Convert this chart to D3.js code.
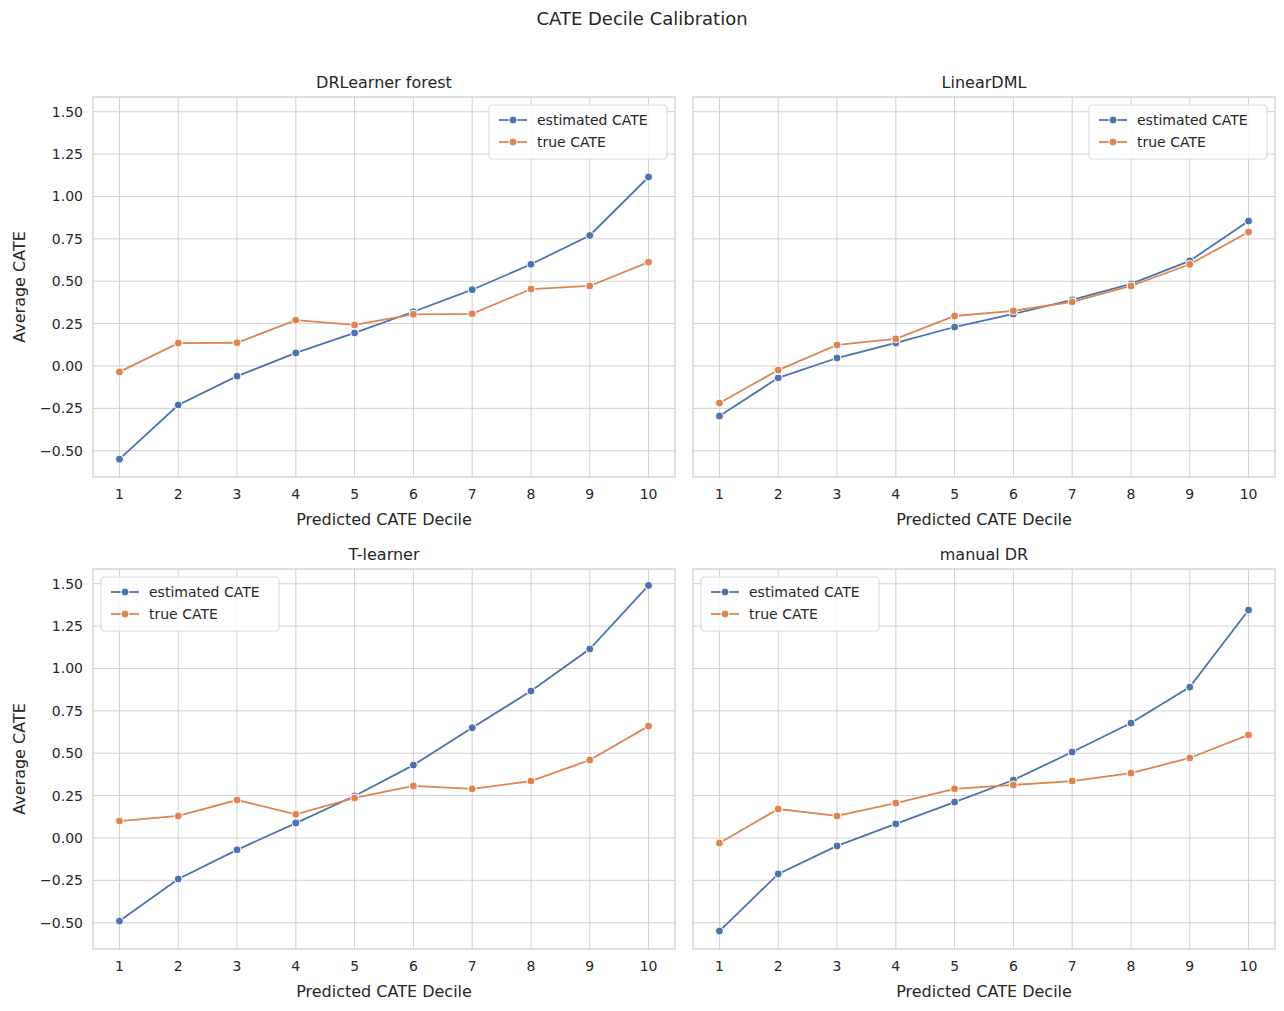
<!DOCTYPE html>
<html><head><meta charset="utf-8">
<script src="https://cdn.jsdelivr.net/npm/d3@7"></script>
<style>body{margin:0;background:#fff}text{font-family:"DejaVu Sans",sans-serif;fill:#262626}</style>
</head><body>
<script>
// values
var deciles = [1,2,3,4,5,6,7,8,9,10];
var titles = ["DRLearner forest","LinearDML","T-learner","manual DR"];
var estDR = [-0.55,-0.23,-0.06,0.077,0.195,0.32,0.45,0.60,0.77,1.115];
var trueDR = [-0.035,0.135,0.137,0.27,0.242,0.305,0.308,0.454,0.472,0.613];
var estLin = [-0.295,-0.07,0.047,0.136,0.23,0.307,0.39,0.484,0.62,0.855];
var trueLin = [-0.218,-0.024,0.124,0.16,0.295,0.325,0.378,0.472,0.60,0.79];
var estT = [-0.49,-0.242,-0.07,0.088,0.248,0.43,0.65,0.867,1.115,1.49];
var trueT = [0.10,0.13,0.224,0.14,0.236,0.307,0.29,0.336,0.46,0.66];
var estMan = [-0.549,-0.212,-0.047,0.083,0.212,0.342,0.507,0.678,0.89,1.345];
var trueMan = [-0.03,0.171,0.13,0.206,0.29,0.313,0.336,0.383,0.472,0.608];
var yTicks = [-0.5,-0.25,0,0.25,0.5,0.75,1,1.25,1.5];
var seriesNames = ["estimated CATE","true CATE"];
var colors = ["#4c72b0","#dd8452"];

var panels = [
  {est:estDR, tru:trueDR, x:93, y:97, legendRight:true},
  {est:estLin, tru:trueLin, x:693, y:97, legendRight:true},
  {est:estT, tru:trueT, x:93, y:569, legendRight:false},
  {est:estMan, tru:trueMan, x:693, y:569, legendRight:false}
];
var W = 582, H = 380;

var svg = d3.select("body").append("svg").attr("width",1284).attr("height",1011);
svg.append("text").attr("x",642).attr("y",25).attr("text-anchor","middle").style("font-size","18px").text("CATE Decile Calibration");

var x = d3.scaleLinear().domain([0.55,10.45]).range([0,W]);
var y = d3.scaleLinear().domain([-0.655,1.587]).range([H,0]);

panels.forEach(function(p,i){
  var g = svg.append("g").attr("transform","translate("+p.x+","+p.y+")");
  // grid
  g.selectAll(".gx").data(deciles).enter().append("line")
    .attr("x1",d=>x(d)).attr("x2",d=>x(d)).attr("y1",0).attr("y2",H).attr("stroke","#d0d0d0");
  g.selectAll(".gy").data(yTicks).enter().append("line")
    .attr("x1",0).attr("x2",W).attr("y1",d=>y(d)).attr("y2",d=>y(d)).attr("stroke","#d0d0d0");
  g.append("rect").attr("width",W).attr("height",H).attr("fill","none").attr("stroke","#cccccc").attr("stroke-width",1.2);
  // x ticks
  g.selectAll(".xt").data(deciles).enter().append("text")
    .attr("x",d=>x(d)).attr("y",H+22).attr("text-anchor","middle").style("font-size","14px").text(d=>d);
  g.append("text").attr("x",W/2).attr("y",H+48).attr("text-anchor","middle").style("font-size","16px").text("Predicted CATE Decile");
  if(i%2===0){
    g.selectAll(".yt").data(yTicks).enter().append("text")
      .attr("x",-10).attr("y",d=>y(d)+5).attr("text-anchor","end").style("font-size","14px").text(d=>d3.format(".2f")(d));
    g.append("text").attr("transform","translate(-68,"+(H/2)+") rotate(-90)").attr("text-anchor","middle").style("font-size","16px").text("Average CATE");
  }
  g.append("text").attr("x",W/2).attr("y",-9).attr("text-anchor","middle").style("font-size","16px").text(titles[i]);
  var line = d3.line().x((d,j)=>x(deciles[j])).y(d=>y(d));
  [p.est,p.tru].forEach(function(vals,k){
    g.append("path").attr("d",line(vals)).attr("fill","none").attr("stroke",colors[k]).attr("stroke-width",1.8);
    g.selectAll(null).data(vals).enter().append("circle")
      .attr("cx",(d,j)=>x(deciles[j])).attr("cy",d=>y(d)).attr("r",4).attr("fill",colors[k]).attr("stroke","#fff").attr("stroke-width",1);
  });
  // legend
  var lw = 178, lh = 54;
  var lx = p.legendRight ? W-lw-8 : 8;
  var lg = g.append("g").attr("transform","translate("+lx+",8)");
  lg.append("rect").attr("width",lw).attr("height",lh).attr("rx",3).attr("fill","#fff").attr("fill-opacity",0.85).attr("stroke","#d6d6d6");
  seriesNames.forEach(function(n,k){
    var yy = 15+k*22;
    lg.append("line").attr("x1",10).attr("x2",38).attr("y1",yy).attr("y2",yy).attr("stroke",colors[k]).attr("stroke-width",1.8);
    lg.append("circle").attr("cx",24).attr("cy",yy).attr("r",4).attr("fill",colors[k]).attr("stroke","#fff");
    lg.append("text").attr("x",48).attr("y",yy+5).style("font-size","14px").text(n);
  });
});
</script>
</body></html>
